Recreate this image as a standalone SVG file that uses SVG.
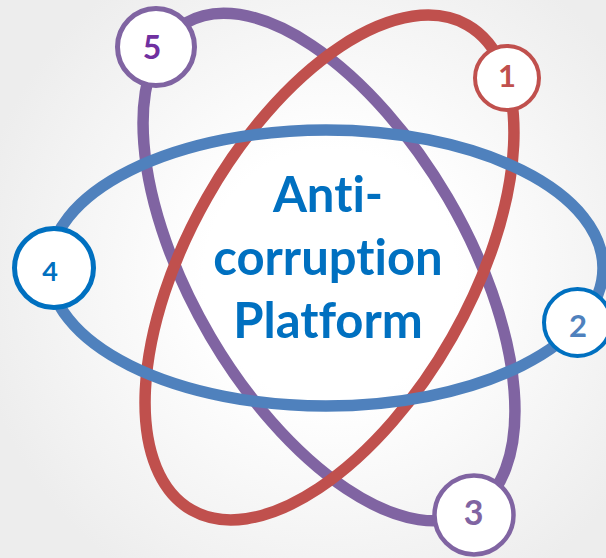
<svg xmlns="http://www.w3.org/2000/svg" width="606" height="558" viewBox="0 0 606 558">
  <defs>
    <radialGradient id="bg" cx="330" cy="275" r="360" gradientUnits="userSpaceOnUse">
      <stop offset="0" stop-color="#ffffff"/>
      <stop offset="0.35" stop-color="#ffffff"/>
      <stop offset="1" stop-color="#ededed"/>
    </radialGradient>
  </defs>
  <style>
    .orbit { fill: none; stroke-width: 11.5; }
    .node circle { fill: #ffffff; }
    .num { font-family: Lato, "Liberation Sans", sans-serif; font-weight: bold; text-anchor: middle; }
    .title { font-family: Lato, "Liberation Sans", sans-serif; font-weight: bold; font-size: 49px; fill: #0070C0; text-anchor: middle; font-variant-ligatures: none; font-feature-settings: "liga" 0, "clig" 0; }
  </style>
  <rect x="0" y="0" width="606" height="558" fill="url(#bg)"/>
  <g id="connectors">
    <ellipse class="orbit" cx="329" cy="267" rx="283" ry="137.5" transform="rotate(59.6 329 267)" stroke="#8064A2"/>
    <ellipse class="orbit" cx="329.5" cy="267.5" rx="279" ry="141" transform="rotate(-60.4 329.5 267.5)" stroke="#C0504D"/>
    <ellipse class="orbit" cx="326" cy="268" rx="277" ry="138" stroke="#4F81BD"/>
  </g>
  <g id="center-label">
    <text class="title" x="328" y="212">Anti-</text>
    <text class="title" x="328" y="275">corruption</text>
    <text class="title" x="328" y="338">Platform</text>
  </g>
  <g id="node1" class="node">
    <circle cx="507" cy="78" r="32" stroke="#C0504D" stroke-width="4"/>
    <text class="num" x="507" y="87" font-size="31" fill="#C0504D">1</text>
  </g>
  <g id="node2" class="node">
    <circle cx="577.5" cy="322.5" r="33.5" stroke="#0070C0" stroke-width="4"/>
    <text class="num" x="578" y="337" font-size="31" fill="#4F81BD">2</text>
  </g>
  <g id="node3" class="node">
    <circle cx="474" cy="515" r="39.5" stroke="#8064A2" stroke-width="4.5"/>
    <text class="num" x="473.5" y="525" font-size="34" fill="#8064A2">3</text>
  </g>
  <g id="node4" class="node">
    <circle cx="54" cy="268" r="39.5" stroke="#0070C0" stroke-width="5"/>
    <text class="num" x="50" y="280.5" font-size="27" fill="#0070C0">4</text>
  </g>
  <g id="node5" class="node">
    <circle cx="156" cy="47" r="38.5" stroke="#8064A2" stroke-width="5"/>
    <text class="num" x="152" y="58.5" font-size="32" fill="#7030A0">5</text>
  </g>
</svg>
